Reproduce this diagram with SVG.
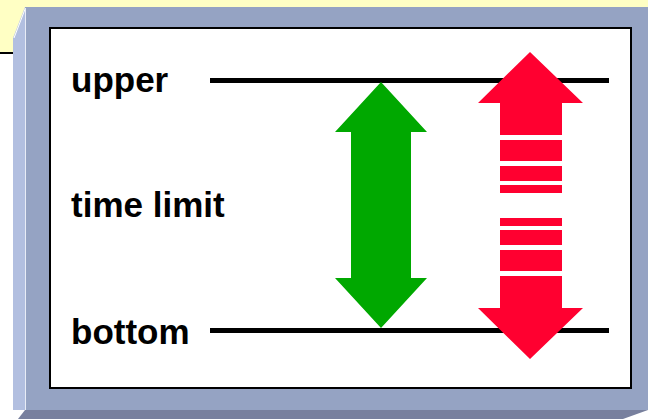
<svg xmlns="http://www.w3.org/2000/svg" width="648" height="419" viewBox="0 0 648 419">
  <style>
    .label { font-family: "Liberation Sans", Arial, sans-serif; font-size: 35px; font-weight: bold; fill: #000; }
    .level { stroke: #000; stroke-width: 5; fill: none; }
    .up-down-green { fill: #00A800; }
    .up-down-red { fill: #FF0030; }
  </style>

  <!-- page background and yellow title band -->
  <rect x="0" y="0" width="648" height="419" fill="#FFFFFF"/>
  <rect x="0" y="0" width="648" height="53" fill="#FFFFC4"/>
  <rect x="0" y="52" width="20" height="2" fill="#000000"/>

  <!-- bevelled frame -->
  <g id="frame">
    <polygon points="13,38 25,7 25,410 13,410" fill="#B2BFE0"/>
    <line x1="25.5" y1="8" x2="14" y2="38" stroke="#FFFFFF" stroke-width="1"/>
    <rect x="25" y="7" width="623" height="403" fill="#95A3C3"/>
    <line x1="25.5" y1="8" x2="25.5" y2="410" stroke="#E8ECF6" stroke-width="1"/>
    <polygon points="25,410 648,410 623,419 18,419" fill="#78809E"/>
    <rect x="50" y="28" width="581" height="360" fill="#FFFFFF" stroke="#000000" stroke-width="2"/>
  </g>

  <!-- level labels -->
  <g id="labels">
    <text id="label-upper" class="label" x="71" y="92">upper</text>
    <text id="label-time-limit" class="label" x="71" y="217">time limit</text>
    <text id="label-bottom" class="label" x="71" y="344">bottom</text>
  </g>

  <!-- upper and bottom limit lines -->
  <g id="levels">
    <line class="level" x1="210" y1="80.5" x2="609" y2="80.5"/>
    <line class="level" x1="210" y1="330.5" x2="609" y2="330.5"/>
  </g>

  <!-- solid double arrow spanning the full range -->
  <g id="arrow-green">
    <polygon class="up-down-green" points="381,82 427,132 411,132 411,278 427,278 381,328 335,278 351,278 351,132 335,132"/>
  </g>

  <!-- broken double arrow overshooting both limits -->
  <g id="arrow-red">
    <polygon class="up-down-red" points="530,52 583,103 562,103 562,135 500,135 500,103 478,103"/>
    <rect class="up-down-red" x="500" y="140" width="62" height="21"/>
    <rect class="up-down-red" x="500" y="166" width="62" height="15"/>
    <rect class="up-down-red" x="500" y="185" width="62" height="8"/>
    <rect class="up-down-red" x="500" y="218" width="62" height="8"/>
    <rect class="up-down-red" x="500" y="230" width="62" height="15"/>
    <rect class="up-down-red" x="500" y="250" width="62" height="21"/>
    <polygon class="up-down-red" points="500,276 562,276 562,308 583,308 530,359 478,308 500,308"/>
  </g>
</svg>
